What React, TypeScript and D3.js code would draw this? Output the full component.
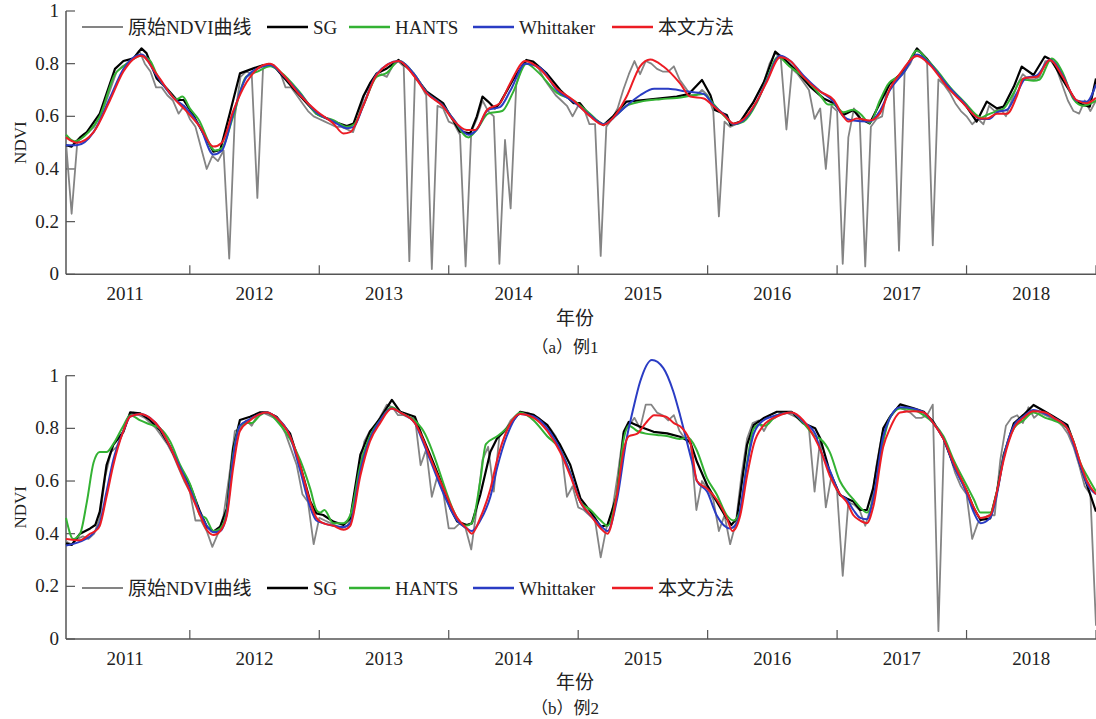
import React from 'react';
import * as d3 from 'd3';

const width = 1096;
const height = 719;
const plotLeft = 66;
const plotRight = 1096;

// 16-day composites, 23 per year, index 1..184
const perYear = 23;
const years = ['2011', '2012', '2013', '2014', '2015', '2016', '2017', '2018'];
const yTicks = [0, 0.2, 0.4, 0.6, 0.8, 1];

const seriesNames = ['原始NDVI曲线', 'SG', 'HANTS', 'Whittaker', '本文方法'];
const seriesColors = ['#848484', '#000000', '#33b233', '#2a3cc4', '#ec1c24'];

type Pt = [number, number];

// ---- example 1 ----
const rawA = [
  0.50, 0.23, 0.50, 0.53, 0.54, 0.56, 0.60, 0.65, 0.71, 0.77, 0.79, 0.80, 0.82, 0.85, 0.80, 0.77, 0.71, 0.71, 0.68, 0.66, 0.61, 0.64, 0.59,
  0.56, 0.48, 0.40, 0.45, 0.43, 0.47, 0.06, 0.60, 0.75, 0.77, 0.76, 0.29, 0.78, 0.80, 0.79, 0.77, 0.71, 0.71, 0.68, 0.65, 0.62, 0.60, 0.59,
  0.58, 0.57, 0.56, 0.56, 0.55, 0.54, 0.60, 0.68, 0.72, 0.75, 0.76, 0.75, 0.79, 0.81, 0.79, 0.05, 0.75, 0.72, 0.68, 0.02, 0.64, 0.63, 0.58,
  0.57, 0.53, 0.03, 0.54, 0.59, 0.66, 0.62, 0.60, 0.04, 0.51, 0.25, 0.72, 0.79, 0.81, 0.80, 0.78, 0.74, 0.71, 0.68, 0.66, 0.64, 0.60, 0.64,
  0.63, 0.57, 0.57, 0.07, 0.56, 0.59, 0.63, 0.70, 0.76, 0.81, 0.76, 0.81, 0.80, 0.78, 0.77, 0.77, 0.79, 0.74, 0.71, 0.68, 0.68, 0.70, 0.68,
  0.62, 0.22, 0.58, 0.56, 0.57, 0.58, 0.62, 0.65, 0.69, 0.73, 0.80, 0.84, 0.82, 0.55, 0.78, 0.76, 0.73, 0.70, 0.59, 0.63, 0.40, 0.64, 0.62,
  0.04, 0.52, 0.63, 0.60, 0.03, 0.56, 0.59, 0.60, 0.72, 0.73, 0.09, 0.77, 0.80, 0.85, 0.84, 0.80, 0.11, 0.74, 0.72, 0.69, 0.65, 0.62, 0.60,
  0.57, 0.59, 0.57, 0.64, 0.62, 0.63, 0.60, 0.66, 0.72, 0.76, 0.74, 0.74, 0.75, 0.81, 0.81, 0.78, 0.72, 0.66, 0.62, 0.61, 0.66, 0.62, 0.66,
];

const sgA: Pt[] = [
  [1, 0.49], [2, 0.485], [3.5, 0.52], [4.7, 0.54], [7, 0.61], [9.7, 0.78], [11.2, 0.81], [13, 0.82], [14.4, 0.858], [15.3, 0.84],
  [17.1, 0.744], [18.9, 0.706], [20.7, 0.662], [21.9, 0.662], [23.6, 0.605], [25.4, 0.535], [27.2, 0.466], [28.4, 0.472], [30.1, 0.611],
  [31.9, 0.763], [34.3, 0.782], [36.1, 0.795], [37.8, 0.795], [39.6, 0.75], [41.4, 0.706], [45.5, 0.61], [48.5, 0.58], [50.9, 0.563],
  [52.1, 0.573], [53.8, 0.675], [55, 0.725], [56.2, 0.763], [58, 0.782], [60.1, 0.814], [62.1, 0.776], [65.1, 0.694], [66.8, 0.668],
  [68, 0.65], [69.2, 0.605], [71, 0.542], [72.8, 0.535], [74, 0.6], [75, 0.675], [76, 0.656], [77.2, 0.63], [78.1, 0.65], [80.4, 0.738],
  [82.8, 0.814], [84, 0.808], [86.4, 0.763], [88.8, 0.7], [91.2, 0.65], [92.3, 0.65], [93.5, 0.618], [94.7, 0.592], [96.5, 0.567],
  [98.2, 0.6], [100.6, 0.656], [103.6, 0.662], [106.6, 0.668], [109.5, 0.675], [111.6, 0.684], [114, 0.738], [115.5, 0.68], [116.3, 0.624],
  [118.4, 0.605], [119.1, 0.567], [120.8, 0.58], [123.2, 0.656], [125, 0.73], [127, 0.846], [129.1, 0.808], [130.9, 0.77], [133.2, 0.713],
  [135.6, 0.668], [137.4, 0.65], [139.1, 0.605], [140.9, 0.624], [142.1, 0.592], [143.8, 0.573], [146.2, 0.675], [147.4, 0.725],
  [149.8, 0.77], [152.2, 0.858], [153.9, 0.82], [155.7, 0.77], [158.1, 0.706], [161, 0.637], [162.8, 0.58], [164.6, 0.656], [166.4, 0.63],
  [167.6, 0.637], [169.4, 0.713], [170.8, 0.789], [172.9, 0.757], [174.9, 0.827], [176.1, 0.814], [178.1, 0.738], [180.5, 0.656],
  [181.7, 0.643], [182.9, 0.637], [184, 0.744],
];

const hantsA: Pt[] = [
  [1, 0.53], [2.5, 0.505], [5, 0.54], [7, 0.6], [9.7, 0.76], [11.2, 0.79], [14.4, 0.83], [16, 0.81], [17.1, 0.76], [19, 0.7], [20.7, 0.665],
  [21.7, 0.675], [23, 0.63], [24.5, 0.59], [27.5, 0.47], [28.7, 0.48], [30.7, 0.6], [33, 0.75], [35, 0.77], [37.3, 0.79], [39, 0.77],
  [42.6, 0.69], [45.5, 0.61], [48.5, 0.585], [51, 0.56], [52.2, 0.57], [53.8, 0.64], [56.2, 0.75], [58, 0.765], [60.1, 0.81], [62.7, 0.765],
  [65.1, 0.69], [68, 0.64], [69.8, 0.59], [72.5, 0.52], [74, 0.55], [76, 0.61], [78.5, 0.62], [80.4, 0.69], [82.8, 0.8], [85, 0.765],
  [88.2, 0.69], [91.2, 0.66], [94.1, 0.61], [96.5, 0.57], [98.8, 0.605], [100.6, 0.64], [103, 0.655], [106.6, 0.665], [109.5, 0.67],
  [112.5, 0.68], [114.3, 0.685], [116.1, 0.645], [118, 0.6], [119.6, 0.57], [121.4, 0.58], [123.7, 0.65], [125.5, 0.74], [127.5, 0.825],
  [129.5, 0.79], [132, 0.75], [135, 0.68], [136.4, 0.645], [137.4, 0.645], [139.1, 0.615], [140.9, 0.625], [142.1, 0.61], [143.8, 0.575],
  [145.6, 0.66], [147, 0.72], [149.8, 0.765], [152.2, 0.85], [154, 0.815], [155.7, 0.775], [158.1, 0.71], [161, 0.645], [162.5, 0.61],
  [163.6, 0.595], [164.6, 0.605], [166.4, 0.62], [167.6, 0.63], [169.4, 0.69], [170.8, 0.74], [172.9, 0.735], [174, 0.74], [176.1, 0.82],
  [178.1, 0.765], [180, 0.665], [181.7, 0.64], [184, 0.66],
];

const whitA: Pt[] = [
  [1, 0.49], [2.9, 0.49], [5.9, 0.54], [8.8, 0.67], [11.2, 0.78], [14.4, 0.835], [17.1, 0.755], [20.1, 0.67], [22.4, 0.63], [24.8, 0.56],
  [27.2, 0.455], [28.7, 0.47], [30.7, 0.61], [33.1, 0.75], [36.1, 0.79], [37.3, 0.795], [39.6, 0.755], [42.6, 0.685], [45.5, 0.615],
  [48.5, 0.58], [50.9, 0.555], [52.1, 0.56], [53.8, 0.64], [56.2, 0.76], [60.1, 0.81], [62.7, 0.765], [65.1, 0.69], [68, 0.64], [69.8, 0.59],
  [72.5, 0.53], [74, 0.55], [76, 0.625], [78.1, 0.635], [80, 0.7], [82.6, 0.8], [85.2, 0.785], [88.2, 0.7], [91.2, 0.655], [94.1, 0.605],
  [96.5, 0.57], [98.8, 0.605], [100.6, 0.64], [103, 0.68], [105.5, 0.705], [108, 0.705], [111, 0.695], [114.3, 0.685], [116.1, 0.64],
  [118, 0.605], [119.6, 0.57], [121.4, 0.585], [123.7, 0.655], [125.5, 0.735], [127.9, 0.83], [129.7, 0.81], [132, 0.755], [135, 0.695],
  [137.4, 0.655], [139.1, 0.6], [140.5, 0.585], [143.8, 0.58], [145.6, 0.62], [147.4, 0.7], [149.8, 0.765], [152.2, 0.835], [154.5, 0.8],
  [157.5, 0.72], [160.4, 0.655], [163.4, 0.59], [165, 0.59], [166.4, 0.615], [168.2, 0.625], [170, 0.69], [171.5, 0.745], [173.5, 0.755],
  [175.8, 0.815], [178.1, 0.755], [180.5, 0.66], [182.3, 0.655], [184, 0.72],
];

const oursA: Pt[] = [
  [1, 0.52], [2.9, 0.5], [5.9, 0.54], [8.8, 0.66], [11.2, 0.77], [14.4, 0.83], [17.1, 0.76], [20.1, 0.67], [22.4, 0.62], [24.8, 0.56],
  [27.2, 0.485], [28.7, 0.5], [30.7, 0.62], [33.1, 0.73], [36.1, 0.795], [37.3, 0.8], [39.6, 0.757], [42.6, 0.68], [45.5, 0.62],
  [48.5, 0.573], [50.3, 0.535], [51.5, 0.54], [53.8, 0.64], [56.2, 0.757], [60.1, 0.81], [62.7, 0.757], [65.1, 0.687], [68, 0.637],
  [69.8, 0.586], [72.2, 0.548], [73.7, 0.548], [75.8, 0.624], [78.1, 0.65], [79.9, 0.725], [82.6, 0.81], [85.2, 0.78], [88.2, 0.706],
  [91.2, 0.66], [94.1, 0.6], [96.5, 0.567], [98.8, 0.61], [100.6, 0.675], [103, 0.79], [104.8, 0.816], [107.1, 0.79], [110.1, 0.725],
  [111.9, 0.675], [114.3, 0.668], [116.1, 0.637], [117.9, 0.605], [119.6, 0.573], [121.4, 0.59], [123.7, 0.656], [125.5, 0.73],
  [127.9, 0.824], [129.7, 0.81], [132, 0.75], [135, 0.694], [137.4, 0.662], [139.1, 0.6], [140, 0.58], [141.5, 0.592], [143.8, 0.584],
  [145.6, 0.61], [147.4, 0.706], [149.2, 0.763], [152.2, 0.829], [154.5, 0.795], [157.5, 0.713], [160.4, 0.65], [163.4, 0.592],
  [164.6, 0.592], [166.4, 0.61], [168.2, 0.61], [169.9, 0.675], [171.1, 0.744], [173.5, 0.75], [175.8, 0.814], [178.1, 0.75],
  [180.5, 0.662], [182.3, 0.65], [184, 0.67],
];

// ---- example 2 ----
const rawB = [
  0.37, 0.36, 0.38, 0.39, 0.38, 0.40, 0.46, 0.62, 0.71, 0.73, 0.78, 0.84, 0.86, 0.85, 0.84, 0.82, 0.80, 0.77, 0.74, 0.70, 0.65, 0.60, 0.56,
  0.45, 0.45, 0.41, 0.35, 0.40, 0.47, 0.62, 0.79, 0.80, 0.83, 0.81, 0.85, 0.86, 0.85, 0.84, 0.82, 0.78, 0.72, 0.66, 0.55, 0.52, 0.36, 0.46,
  0.45, 0.44, 0.43, 0.42, 0.43, 0.47, 0.63, 0.75, 0.79, 0.81, 0.85, 0.89, 0.88, 0.85, 0.85, 0.84, 0.84, 0.66, 0.72, 0.54, 0.62, 0.56, 0.42,
  0.42, 0.44, 0.42, 0.34, 0.50, 0.68, 0.73, 0.56, 0.77, 0.79, 0.83, 0.85, 0.86, 0.86, 0.85, 0.84, 0.82, 0.80, 0.77, 0.72, 0.54, 0.58, 0.50,
  0.49, 0.47, 0.45, 0.31, 0.42, 0.48, 0.62, 0.78, 0.81, 0.84, 0.80, 0.89, 0.89, 0.86, 0.85, 0.83, 0.85, 0.79, 0.76, 0.74, 0.49, 0.60, 0.57,
  0.53, 0.41, 0.47, 0.36, 0.44, 0.62, 0.76, 0.82, 0.83, 0.79, 0.83, 0.84, 0.86, 0.86, 0.85, 0.84, 0.82, 0.80, 0.56, 0.76, 0.50, 0.62, 0.56,
  0.24, 0.52, 0.51, 0.49, 0.43, 0.50, 0.66, 0.78, 0.83, 0.86, 0.88, 0.87, 0.86, 0.84, 0.84, 0.85, 0.89, 0.03, 0.76, 0.70, 0.63, 0.58, 0.55,
  0.38, 0.44, 0.46, 0.47, 0.47, 0.68, 0.81, 0.84, 0.85, 0.82, 0.88, 0.84, 0.86, 0.85, 0.84, 0.83, 0.81, 0.78, 0.73, 0.66, 0.58, 0.55, 0.05,
];

const sgB: Pt[] = [
  [1, 0.363], [2, 0.357], [3.5, 0.4], [5.3, 0.42], [6.2, 0.433], [7, 0.484], [8.2, 0.66], [9.4, 0.737], [11.2, 0.787], [12.4, 0.861],
  [14.2, 0.857], [15.9, 0.832], [17.7, 0.794], [19.5, 0.73], [21.3, 0.648], [23, 0.585], [24.8, 0.484], [26, 0.427], [27.2, 0.408],
  [28.4, 0.427], [29.6, 0.496], [30.7, 0.724], [31.9, 0.832], [33.7, 0.844], [35.5, 0.861], [36.7, 0.861], [38.4, 0.844], [40.8, 0.781],
  [42.6, 0.66], [44.4, 0.522], [45.5, 0.477], [46.7, 0.471], [48.5, 0.446], [50.3, 0.433], [51.5, 0.458], [53.3, 0.7], [55, 0.787],
  [56.8, 0.838], [58.9, 0.908], [60.4, 0.863], [63, 0.844], [64.2, 0.775], [65.7, 0.699], [68.1, 0.572], [69.3, 0.496], [70.5, 0.446],
  [72.2, 0.433], [73.1, 0.439], [74.6, 0.547], [76.4, 0.711], [77.6, 0.762], [79.3, 0.8], [81.7, 0.863], [84.1, 0.851], [86.5, 0.813],
  [88.8, 0.737], [90.6, 0.661], [92.4, 0.534], [94.2, 0.484], [96, 0.427], [97.2, 0.433], [98.9, 0.547], [100.1, 0.787], [101, 0.825],
  [103, 0.806], [105.4, 0.787], [107.8, 0.781], [110.1, 0.768], [111.9, 0.749], [113.1, 0.673], [114.9, 0.585], [116.6, 0.522],
  [118.4, 0.458], [119.2, 0.433], [120.2, 0.458], [122, 0.737], [123.2, 0.813], [124.9, 0.838], [127.3, 0.863], [129.9, 0.863],
  [132, 0.819], [134.1, 0.8], [135, 0.762], [136.7, 0.635], [138.5, 0.547], [139.7, 0.534], [140.9, 0.522], [142.1, 0.49], [143.3, 0.49],
  [144.4, 0.572], [146.2, 0.8], [147.4, 0.844], [149.2, 0.891], [151.6, 0.876], [153.4, 0.863], [155.1, 0.825], [156.9, 0.762],
  [158.7, 0.661], [161.1, 0.559], [162.3, 0.496], [163.5, 0.452], [165.2, 0.458], [166.4, 0.559], [167.6, 0.699], [169.4, 0.819],
  [171.1, 0.851], [172.9, 0.889], [175, 0.863], [176.5, 0.844], [178.9, 0.813], [180, 0.749], [181.2, 0.661], [182.4, 0.585], [184, 0.484],
];

const hantsB: Pt[] = [
  [1, 0.46], [2.3, 0.38], [3.5, 0.4], [4.7, 0.52], [5.9, 0.67], [7, 0.71], [8.2, 0.71], [9.4, 0.74], [11.2, 0.81], [12.4, 0.85],
  [14.2, 0.83], [15.9, 0.815], [17.7, 0.8], [19.5, 0.75], [21.3, 0.66], [23, 0.59], [24, 0.53], [24.8, 0.47], [25.8, 0.46], [27.2, 0.41],
  [28.4, 0.42], [29.6, 0.49], [30.7, 0.7], [31.9, 0.81], [33, 0.82], [34, 0.82], [35.5, 0.85], [36.7, 0.86], [38.4, 0.83], [40.8, 0.76],
  [42.6, 0.68], [44.4, 0.57], [45.5, 0.49], [46.2, 0.48], [46.9, 0.49], [48.5, 0.44], [50.3, 0.44], [51.5, 0.47], [53.3, 0.66],
  [55, 0.77], [56.8, 0.83], [58.9, 0.88], [60.4, 0.86], [63, 0.83], [64.2, 0.8], [72, 0.43], [73.1, 0.44], [74.6, 0.6], [75.6, 0.74],
  [77.6, 0.77], [79.3, 0.8], [81.7, 0.86], [84.1, 0.83], [86.5, 0.77], [88.8, 0.72], [90.6, 0.63], [92.4, 0.52], [94.2, 0.49], [96, 0.45],
  [97.2, 0.43], [98.9, 0.56], [100.1, 0.76], [101, 0.81], [102.5, 0.79], [104, 0.78], [106, 0.775], [108, 0.77], [110, 0.76],
  [111.5, 0.765], [113, 0.72], [114.9, 0.61], [116.6, 0.55], [118.4, 0.47], [119.6, 0.45], [120.8, 0.49], [122, 0.67], [123.2, 0.8],
  [124.2, 0.815], [125.2, 0.81], [127.3, 0.85], [129.9, 0.86], [132, 0.82], [134.1, 0.77], [135, 0.76], [136.7, 0.71], [138.5, 0.6],
  [139.7, 0.56], [140.9, 0.53], [142.1, 0.5], [143.3, 0.48], [144.4, 0.53], [146.2, 0.75], [147.4, 0.84], [149.2, 0.875], [151.6, 0.87],
  [153.4, 0.85], [155.1, 0.82], [156.9, 0.77], [158.7, 0.68], [161.1, 0.58], [162.3, 0.53], [163.5, 0.48], [165.2, 0.48], [166.4, 0.56],
  [167.6, 0.69], [169.4, 0.8], [171.1, 0.83], [172.9, 0.86], [175, 0.84], [176.5, 0.83], [178.9, 0.8], [180, 0.75], [181.2, 0.67],
  [182.4, 0.62], [184, 0.56],
];

const whitB: Pt[] = [
  [1, 0.355], [3.5, 0.37], [5.3, 0.39], [6.2, 0.41], [7, 0.44], [8.2, 0.56], [9.4, 0.68], [11.2, 0.79], [12.4, 0.845], [14.2, 0.855],
  [15.9, 0.84], [17.7, 0.8], [19.5, 0.73], [21.3, 0.65], [23, 0.57], [24.8, 0.48], [26, 0.43], [27.2, 0.405], [28.4, 0.41], [29.6, 0.48],
  [30.7, 0.69], [31.9, 0.81], [33.7, 0.835], [35.5, 0.855], [36.7, 0.86], [38.4, 0.84], [40.8, 0.77], [42.6, 0.64], [44.4, 0.5],
  [45.5, 0.45], [46.7, 0.44], [48.5, 0.43], [50.3, 0.425], [51.5, 0.44], [53.3, 0.64], [55, 0.76], [56.8, 0.83], [58.9, 0.875],
  [60.4, 0.86], [63, 0.82], [64.2, 0.76], [65.7, 0.68], [68.1, 0.55], [70.5, 0.45], [72.2, 0.42], [73.1, 0.41], [74.6, 0.45],
  [76.4, 0.54], [77.6, 0.65], [79.3, 0.77], [81.7, 0.855], [84.1, 0.845], [86.5, 0.8], [88.8, 0.72], [90.6, 0.63], [92.4, 0.52],
  [94.2, 0.47], [96, 0.43], [97.2, 0.41], [98.9, 0.53], [100.6, 0.76], [101.8, 0.876], [103, 0.977], [105.1, 1.06], [107.1, 1.03],
  [108.9, 0.94], [110.1, 0.85], [111.3, 0.75], [112.5, 0.65], [113.1, 0.6], [114.9, 0.56], [116.6, 0.47], [119, 0.42], [120.2, 0.44],
  [122, 0.66], [123.2, 0.78], [124.9, 0.83], [127.3, 0.85], [129.9, 0.86], [132, 0.825], [134.1, 0.78], [135, 0.72], [136.7, 0.64],
  [138.5, 0.55], [139.7, 0.53], [140.9, 0.49], [142.1, 0.46], [143.3, 0.455], [144.4, 0.53], [146.2, 0.77], [147.4, 0.84], [149.2, 0.88],
  [151.6, 0.875], [153.4, 0.86], [155.1, 0.82], [156.9, 0.76], [158.7, 0.66], [161.1, 0.55], [162.3, 0.48], [163.5, 0.44], [165.2, 0.46],
  [166.4, 0.55], [167.6, 0.69], [169.4, 0.81], [171.1, 0.845], [172.9, 0.87], [175, 0.855], [176.5, 0.84], [178.9, 0.8], [180, 0.74],
  [181.2, 0.66], [182.4, 0.59], [184, 0.55],
];

const oursB: Pt[] = [
  [1, 0.38], [3.5, 0.375], [5.3, 0.4], [6.2, 0.41], [7, 0.43], [8.2, 0.54], [9.4, 0.66], [11.2, 0.79], [12.4, 0.845], [14.2, 0.855],
  [15.9, 0.84], [17.7, 0.8], [19.5, 0.73], [21.3, 0.64], [23, 0.56], [24.8, 0.47], [26, 0.415], [27.2, 0.395], [28.4, 0.41], [29.6, 0.47],
  [30.7, 0.65], [31.9, 0.79], [33.7, 0.83], [35.5, 0.855], [36.7, 0.86], [38.4, 0.84], [40.8, 0.77], [42.6, 0.66], [44.4, 0.52],
  [45.5, 0.46], [46.7, 0.44], [48.5, 0.43], [50.3, 0.415], [51.5, 0.43], [53.3, 0.62], [55, 0.75], [56.8, 0.82], [58.9, 0.875],
  [60.4, 0.86], [63, 0.82], [64.2, 0.77], [65.7, 0.69], [68.1, 0.57], [70.5, 0.46], [72.2, 0.42], [73.1, 0.4], [74.6, 0.46],
  [76.4, 0.57], [77.6, 0.68], [79.3, 0.79], [81.7, 0.855], [84.1, 0.84], [86.5, 0.79], [88.8, 0.71], [90.6, 0.62], [92.4, 0.52],
  [94.2, 0.47], [96, 0.42], [97.2, 0.4], [98.9, 0.55], [100.1, 0.72], [101, 0.77], [102.5, 0.78], [104, 0.82], [105.5, 0.85],
  [107.5, 0.845], [109, 0.82], [110.5, 0.8], [112, 0.74], [113.1, 0.6], [115, 0.57], [116.6, 0.53], [118.4, 0.46], [119.4, 0.41],
  [120.8, 0.47], [122, 0.62], [123.2, 0.74], [124.9, 0.81], [127.3, 0.845], [129.9, 0.86], [132, 0.83], [134.1, 0.76], [135, 0.72],
  [136.7, 0.62], [138.5, 0.55], [139.7, 0.52], [140.9, 0.47], [142.1, 0.45], [143.3, 0.44], [144.4, 0.5], [146.2, 0.73], [147.4, 0.8],
  [149.2, 0.86], [151.6, 0.865], [153.4, 0.86], [155.1, 0.82], [156.9, 0.76], [158.7, 0.67], [161.1, 0.56], [162.3, 0.5], [163.5, 0.46],
  [165.2, 0.47], [166.4, 0.56], [167.6, 0.68], [169.4, 0.8], [171.1, 0.84], [172.9, 0.865], [175, 0.86], [176.5, 0.84], [178.9, 0.8],
  [180, 0.75], [181.2, 0.67], [182.4, 0.6], [184, 0.55],
];

const panels = [
  { raw: rawA, smooth: [sgA, hantsA, whitA, oursA], y0: 274.3, y1: 11, legendY: 27, yearY: 300, xTitleY: 325, caption: '（a）例1', captionY: 353 },
  { raw: rawB, smooth: [sgB, hantsB, whitB, oursB], y0: 639, y1: 375.7, legendY: 588, yearY: 665, xTitleY: 689, caption: '（b）例2', captionY: 714 },
];

const legendX = [82, 267, 349, 473, 612];
const legendLen = 41;

const serif = '"Liberation Serif", "Times New Roman", "Noto Sans CJK SC", serif';
const axisColor = '#555';

const x = d3.scaleLinear().domain([1, perYear * years.length]).range([plotLeft, plotRight]);

const Panel = ({ p }: { p: typeof panels[number] }) => {
  const y = d3.scaleLinear().domain([0, 1]).range([p.y0, p.y1]);
  const rawLine = d3.line<number>().x((_, i) => x(i + 1)).y(d => y(d));
  const sgLine = d3.line<Pt>().x(d => x(d[0])).y(d => y(d[1]));
  const smoothLine = d3.line<Pt>().x(d => x(d[0])).y(d => y(d[1])).curve(d3.curveMonotoneX);
  const yearEnds = d3.range(1, years.length + 1).map(k => k * perYear);
  return (
    <g fontFamily={serif}>
      {/* axes */}
      <line x1={plotLeft} x2={plotLeft} y1={p.y0} y2={p.y1} stroke={axisColor} strokeWidth={1.5} />
      <line x1={plotLeft} x2={plotRight} y1={p.y0} y2={p.y0} stroke={axisColor} strokeWidth={1.5} />
      {yTicks.map(t => (
        <g key={t}>
          <line x1={plotLeft} x2={plotLeft + 9} y1={y(t)} y2={y(t)} stroke={axisColor} strokeWidth={1.2} />
          <text x={plotLeft - 7} y={y(t) + 6} textAnchor="end" fontSize={19} fill="#222">{String(t)}</text>
        </g>
      ))}
      {yearEnds.map(t => (
        <line key={t} x1={x(t)} x2={x(t)} y1={p.y0} y2={p.y0 - 9} stroke={axisColor} strokeWidth={1.2} />
      ))}
      {years.map((yr, k) => (
        <text key={yr} x={x((k + 1) * perYear - perYear / 2)} y={p.yearY} textAnchor="middle" fontSize={19} fill="#222">{yr}</text>
      ))}
      <text transform={`translate(26,${(p.y0 + p.y1) / 2}) rotate(-90)`} textAnchor="middle" fontSize={17} fill="#222">NDVI</text>
      <text x={(plotLeft + plotRight) / 2 - 6} y={p.xTitleY} textAnchor="middle" fontSize={19} fill="#222">年份</text>
      <text x={565} y={p.captionY} textAnchor="middle" fontSize={17} fill="#222">{p.caption}</text>

      {/* series */}
      <path d={rawLine(p.raw) as string} fill="none" stroke={seriesColors[0]} strokeWidth={1.8} strokeLinejoin="round" />
      <path d={sgLine(p.smooth[0]) as string} fill="none" stroke={seriesColors[1]} strokeWidth={2.2} strokeLinejoin="round" />
      {p.smooth.slice(1).map((s, k) => (
        <path key={k} d={smoothLine(s) as string} fill="none" stroke={seriesColors[k + 2]} strokeWidth={2} strokeLinejoin="round" />
      ))}

      {/* legend */}
      {seriesNames.map((name, k) => (
        <g key={name}>
          <line x1={legendX[k]} x2={legendX[k] + legendLen} y1={p.legendY} y2={p.legendY}
            stroke={seriesColors[k]} strokeWidth={k === 0 ? 1.8 : 2.4} />
          <text x={legendX[k] + legendLen + 5} y={p.legendY + 6.5} fontSize={19} fill="#222">{name}</text>
        </g>
      ))}
    </g>
  );
};

const App = () => (
  <svg width={width} height={height} style={{ position: 'absolute', left: 0, top: 0, background: '#fff' }}>
    <rect width={width} height={height} fill="#fff" />
    {panels.map((p, i) => <Panel key={i} p={p} />)}
  </svg>
);

export default App;
